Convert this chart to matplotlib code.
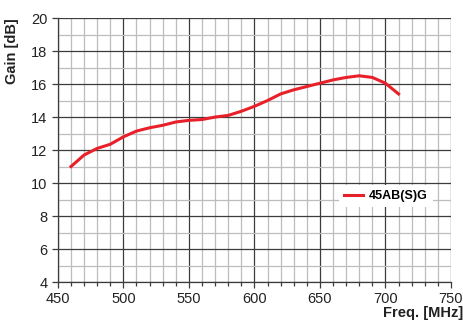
import numpy as np
import matplotlib.pyplot as plt
from matplotlib.ticker import MultipleLocator

plt.rcParams['font.family'] = ['Liberation Sans', 'DejaVu Sans']

freq = [460, 470, 480, 490, 500, 510, 520, 530, 540, 550, 560, 570, 580,
        590, 600, 610, 620, 630, 640, 650, 660, 670, 680, 690, 700, 710]
gain = [11.0, 11.7, 12.1, 12.35, 12.8, 13.15, 13.35, 13.5, 13.7, 13.8, 13.85,
        14.0, 14.1, 14.35, 14.65, 15.0, 15.4, 15.65, 15.85, 16.05, 16.25,
        16.4, 16.5, 16.4, 16.05, 15.4]
series_name = "45AB(S)G"

fig = plt.figure(figsize=(4.63, 3.22), dpi=100)
ax = fig.add_axes([0.125, 0.124, 0.849, 0.82])

ax.plot(freq, gain, color="#e8202a", linewidth=2.2, label=series_name, zorder=3)

ax.set_xlim(450, 750)
ax.set_ylim(4, 20)
ax.xaxis.set_major_locator(MultipleLocator(50))
ax.xaxis.set_minor_locator(MultipleLocator(10))
ax.yaxis.set_major_locator(MultipleLocator(2))
ax.yaxis.set_minor_locator(MultipleLocator(1))

ax.grid(which="major", color="#3c3c3c", linewidth=0.9)
ax.grid(which="minor", color="#bdbdbd", linewidth=0.9)
ax.set_axisbelow(True)

for side in ["top", "right"]:
    ax.spines[side].set_visible(False)
ax.spines["left"].set_color("#3c3c3c")
ax.spines["bottom"].set_color("#3c3c3c")
ax.spines["left"].set_linewidth(0.9)
ax.spines["bottom"].set_linewidth(0.9)

ax.tick_params(which="both", direction="out", colors="#3c3c3c", labelcolor="#222222",
               labelsize=10.5, width=0.9)
ax.tick_params(which="major", length=4)
ax.tick_params(which="minor", length=3)
ax.tick_params(axis="y", which="minor", length=0)

ax.set_ylabel("Gain [dB]", fontweight="bold", fontsize=10.5, color="#222222")
ax.yaxis.set_label_coords(-0.10, 1.0)
ax.yaxis.label.set_horizontalalignment("right")

ax.set_xlabel("Freq. [MHz]", fontweight="bold", fontsize=10.5, color="#222222")
ax.xaxis.set_label_coords(1.03, -0.09)
ax.xaxis.label.set_horizontalalignment("right")

leg = ax.legend(loc="center", bbox_to_anchor=(0.835, 0.326), frameon=True,
                fancybox=False, edgecolor="none", framealpha=1.0,
                prop={"weight": "bold", "size": 9}, handlelength=1.5,
                handletextpad=0.5, borderpad=0.4, borderaxespad=0)

fig.savefig("out.png", dpi=100)
